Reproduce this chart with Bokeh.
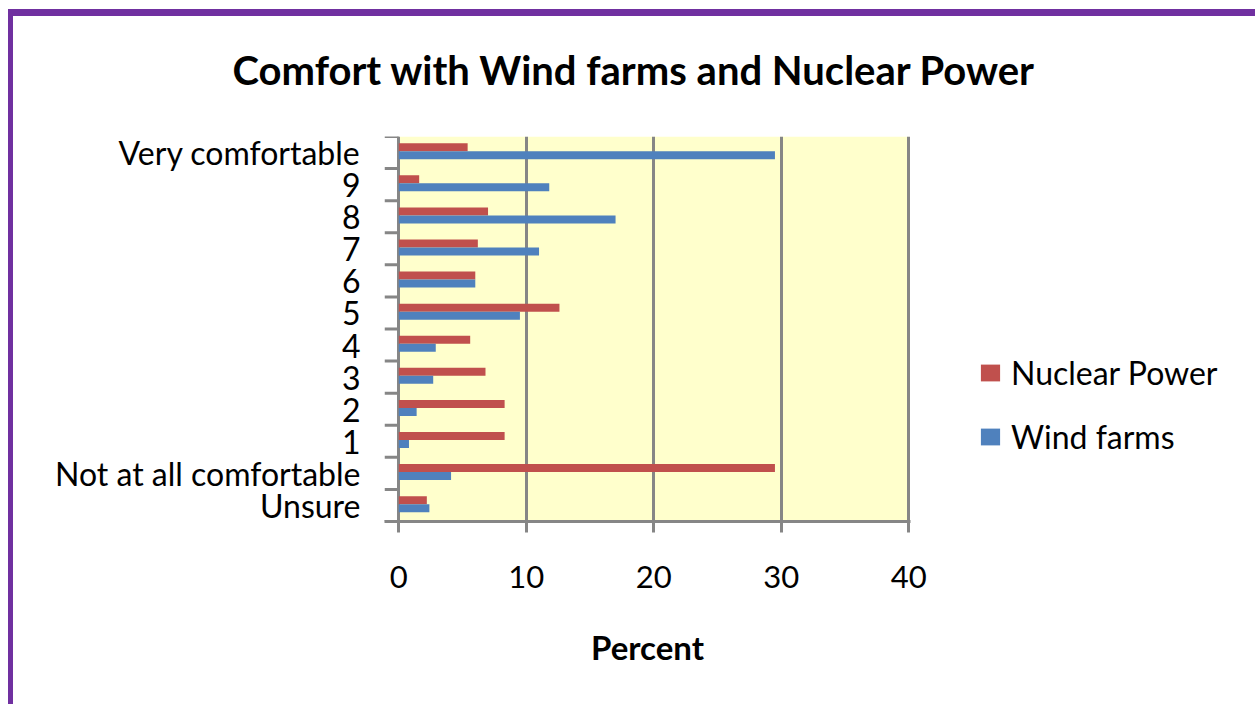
from bokeh.plotting import figure
from bokeh.models import FactorRange, Range1d, FixedTicker, Legend, LegendItem, ColumnDataSource
from bokeh.transform import dodge
from bokeh.embed import file_html
from bokeh.resources import INLINE

# ---- data ----
categories = ["Very comfortable", "9", "8", "7", "6", "5", "4", "3", "2", "1",
              "Not at all comfortable", "Unsure"]
nuclear = [5.4, 1.6, 7.0, 6.2, 6.0, 12.6, 5.6, 6.8, 8.3, 8.3, 29.5, 2.2]
wind = [29.5, 11.8, 17.0, 11.0, 6.0, 9.5, 2.9, 2.7, 1.4, 0.8, 4.1, 2.4]
x_ticks = [0, 10, 20, 30, 40]
series_names = ["Nuclear Power", "Wind farms"]

FONT = "Lato"
GRAY = "#868686"
RED = "#C0504D"
BLUE = "#4F81BD"
YELLOW = "#FFFFCC"
PURPLE = "#7030A0"

factors = list(reversed(categories))  # bottom to top
source = ColumnDataSource(dict(cat=categories, nuclear=nuclear, wind=wind))

p = figure(
    y_range=FactorRange(factors=factors, range_padding=0),
    x_range=Range1d(-1.12, 40.13),
    frame_width=526, frame_height=385,
    min_border_left=384, min_border_right=345,
    min_border_top=136, min_border_bottom=183,
    output_backend="svg", toolbar_location=None,
)
# outer chart border (drawn behind a transparent canvas border area)
p.border_fill_color = None
p.styles = {"box-shadow": (f"inset 0 9px 0 0 #ffffff, inset 8px 0 0 0 #ffffff, "
                           f"inset 0 16px 0 0 {PURPLE}, inset 13px 0 0 0 {PURPLE}, "
                           f"inset -4px 0 0 0 {PURPLE}"),
            "background-color": "#ffffff"}

# yellow plot area
p.quad(left=x_ticks[0], right=x_ticks[-1], bottom=0, top=len(categories),
       fill_color=YELLOW, line_color=None, level="image")

# category boundary tick marks on the category axis side
n = len(categories)
p.segment(x0=[p.x_range.start] * (n + 1), x1=[0] * (n + 1),
          y0=list(range(n + 1)), y1=list(range(n + 1)),
          line_color=GRAY, line_width=3)

r_n = p.hbar(y=dodge("cat", 0.165, range=p.y_range), left=0, right="nuclear",
             height=0.25, source=source, fill_color=RED, line_color=None)
r_w = p.hbar(y=dodge("cat", -0.085, range=p.y_range), left=0, right="wind",
             height=0.25, source=source, fill_color=BLUE, line_color=None)

# grid
p.ygrid.grid_line_color = None
p.xgrid.ticker = FixedTicker(ticks=x_ticks)
p.xgrid.grid_line_color = GRAY
p.xgrid.grid_line_width = 3
p.outline_line_color = None

# x axis
p.xaxis.ticker = FixedTicker(ticks=x_ticks)
p.xaxis.axis_line_color = GRAY
p.xaxis.axis_line_width = 3
p.xaxis.major_tick_line_color = GRAY
p.xaxis.major_tick_line_width = 3
p.xaxis.major_tick_in = 0
p.xaxis.major_tick_out = 11
p.xaxis.minor_tick_line_color = None
p.xaxis.major_label_text_font = FONT
p.xaxis.major_label_text_font_size = "31px"
p.xaxis.major_label_text_color = "black"
p.xaxis.major_label_standoff = 33
p.xaxis.axis_label = "Percent"
p.xaxis.axis_label_text_font = FONT
p.xaxis.axis_label_text_font_size = "33px"
p.xaxis.axis_label_text_font_style = "bold"
p.xaxis.axis_label_text_color = "black"
p.xaxis.axis_label_standoff = 36

# y axis
p.yaxis.axis_line_color = None
p.yaxis.major_tick_line_color = None
p.yaxis.major_tick_in = 0
p.yaxis.major_tick_out = 0
p.yaxis.major_label_text_font = FONT
p.yaxis.major_label_text_font_size = "32px"
p.yaxis.major_label_text_color = "black"
p.yaxis.major_label_standoff = 24

# title
p.title.text = "Comfort with Wind farms and Nuclear Power"
p.title.text_font = FONT
p.title.text_font_size = "40px"
p.title.text_font_style = "bold"
p.title.text_color = "black"
p.title.align = "left"
p.title.offset = -152
p.title.standoff = 86

legend = Legend(items=[LegendItem(label=series_names[0], renderers=[r_n]),
                       LegendItem(label=series_names[1], renderers=[r_w])],
                location=(68, 65))
legend.label_text_font = FONT
legend.label_text_font_size = "32px"
legend.label_text_color = "black"
legend.glyph_width = 24
legend.glyph_height = 21
legend.label_standoff = 9
legend.label_height = 38
legend.spacing = 25
legend.padding = 0
legend.margin = 0
legend.border_line_color = None
legend.background_fill_alpha = 0
p.add_layout(legend, "right")

open("out.html", "w").write(file_html(p, INLINE))
